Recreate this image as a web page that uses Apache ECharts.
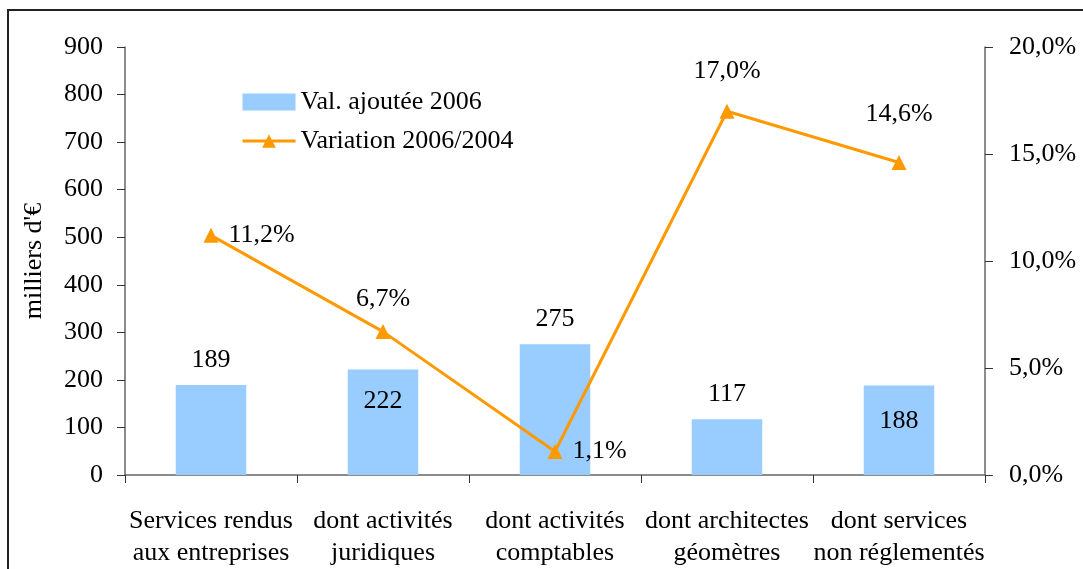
<!DOCTYPE html>
<html><head><meta charset="utf-8">
<script src="https://cdn.jsdelivr.net/npm/echarts@6/dist/echarts.min.js"></script>
<style>html,body{margin:0;padding:0;background:#fff}#c{width:1083px;height:569px}</style>
</head><body><div id="c"></div>
<script>
const categories = ['Services rendus\naux entreprises', 'dont activités\njuridiques', 'dont activités\ncomptables', 'dont architectes\ngéomètres', 'dont services\nnon réglementés'];
const valeurAjoutee = [189, 222, 275, 117, 188];
const variation = [11.2, 6.7, 1.1, 17.0, 14.6];
const leftTicks = [0, 900, 100];
const rightTicks = [0, 20, 5];

const barLabelPos = [['top', 12], ['insideTop', 19], ['top', 12], ['top', 12], ['insideTop', 23]];
const lineLabelPos = [['right', 10], ['top', 12], ['right', 10], ['top', 20], ['top', 28]];

const font = 'Liberation Serif';
const FS = 26;
const fmtPct = v => v.toFixed(1).replace('.', ',') + '%';

const chart = echarts.init(document.getElementById('c'));
chart.setOption({
  animation: false,
  textStyle: { fontFamily: font, color: '#000' },
  graphic: [{ type: 'rect', shape: { x: 8, y: 10, width: 1200, height: 700 }, style: { fill: 'none', stroke: '#222', lineWidth: 2 }, silent: true }],
  legend: {
    orient: 'vertical', left: 236, top: 84, itemWidth: 53, itemHeight: 17, itemGap: 13,
    textStyle: { fontFamily: font, fontSize: FS, color: '#000' },
    data: [{ name: 'Val. ajoutée 2006', icon: 'rect' }, { name: 'Variation 2006/2004', lineStyle: { width: 3, color: '#FF9900' } }]
  },
  grid: { left: 125, right: 98, top: 47, bottom: 93 },
  xAxis: {
    type: 'category', data: categories,
    axisLine: { lineStyle: { color: '#666', width: 1.5 } },
    axisTick: { show: true, length: 8, lineStyle: { color: '#333' } },
    axisLabel: { fontFamily: font, fontSize: FS, color: '#000', lineHeight: 32, margin: 30, interval: 0 }
  },
  yAxis: [{
    type: 'value', min: leftTicks[0], max: leftTicks[1], interval: leftTicks[2],
    name: "milliers d'€", nameLocation: 'middle', nameGap: 78, nameRotate: 90,
    nameTextStyle: { fontFamily: font, fontSize: FS, color: '#000' },
    splitLine: { show: false },
    axisLine: { show: true, lineStyle: { color: '#666', width: 1.5 } },
    axisTick: { show: true, length: 8, lineStyle: { color: '#333' } },
    axisLabel: { fontFamily: font, fontSize: FS, color: '#000', margin: 22 }
  }, {
    type: 'value', min: rightTicks[0], max: rightTicks[1], interval: rightTicks[2],
    splitLine: { show: false },
    axisLine: { show: true, lineStyle: { color: '#666', width: 1.5 } },
    axisTick: { show: true, length: 8, lineStyle: { color: '#333' } },
    axisLabel: { fontFamily: font, fontSize: FS, color: '#000', margin: 24, formatter: fmtPct }
  }],
  series: [{
    name: 'Val. ajoutée 2006', type: 'bar', barWidth: '41%', yAxisIndex: 0,
    itemStyle: { color: '#99CCFF' },
    data: valeurAjoutee.map((v, i) => ({ value: v, label: { show: true, position: barLabelPos[i][0], distance: barLabelPos[i][1] } })),
    label: { fontFamily: font, fontSize: FS, color: '#000' }
  }, {
    name: 'Variation 2006/2004', type: 'line', yAxisIndex: 1,
    symbol: 'triangle', symbolSize: 15,
    lineStyle: { color: '#FF9900', width: 3 },
    itemStyle: { color: '#FF9900' },
    data: variation.map((v, i) => ({ value: v, label: { show: true, position: lineLabelPos[i][0], distance: lineLabelPos[i][1] } })),
    label: { fontFamily: font, fontSize: FS, color: '#000', formatter: p => fmtPct(p.value) }
  }]
});
</script></body></html>
